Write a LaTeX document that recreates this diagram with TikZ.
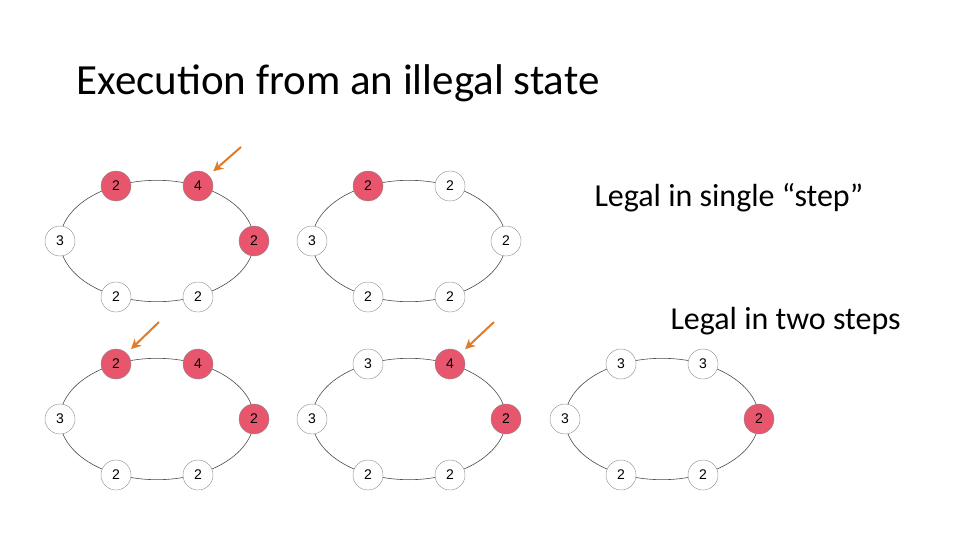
\documentclass[tikz,border=0pt]{standalone}
\usepackage{fontspec}
\usetikzlibrary{arrows.meta}
\setmainfont{Carlito}
\newfontfamily\nodefont{Liberation Sans}
\definecolor{nred}{HTML}{E8566E}
\definecolor{arr}{HTML}{E07B2A}
\begin{document}
\begin{tikzpicture}[x=1pt,y=-1pt,
  nd/.style={circle,draw=black!45,fill=white,minimum size=30pt,inner sep=0pt,font=\nodefont\fontsize{14}{14}\selectfont},
  rd/.style={nd,fill=nred},
  ring/.style={draw=black!70,line width=0.6pt},
  oarrow/.style={draw=arr,line width=2pt,shorten >=6pt,-{Stealth[length=10pt,width=10pt]}}]
\useasboundingbox (0,0) rectangle (960,540);
\node[anchor=base west,font=\fontsize{43}{43}\selectfont] (title) at (73,95) {Execution from an illegal state};
\node[anchor=base west,font=\fontsize{32}{32}\selectfont] (l1) at (591,206) {Legal in single “step”};
\node[anchor=base west,font=\fontsize{32}{32}\selectfont] (l2) at (667,329) {Legal in two steps};
\newcommand\myring[8]{%
  \begin{scope}[shift={#1}]
  \draw[ring] (0,0) ellipse (97 and 60.7);
  \node[#2] (#8a) at (-41,-55) {#3};
  \node[#4] (#8b) at (41,-55) {#5};
  \node[nd] (#8c) at (-97,0) {3};
  \node[#6] (#8d) at (97,0) {#7};
  \node[nd] (#8e) at (-41,56) {2};
  \node[nd] (#8f) at (41,56) {2};
  \end{scope}}
\myring{(157,241)}{rd}{2}{rd}{4}{rd}{2}{A}
\myring{(409,241)}{rd}{2}{nd}{2}{nd}{2}{B}
\myring{(157,419)}{rd}{2}{rd}{4}{rd}{2}{C}
\myring{(409,419)}{nd}{3}{rd}{4}{rd}{2}{D}
\myring{(662,419)}{nd}{3}{nd}{3}{rd}{2}{E}
\coordinate (s1) at (241,147);
\coordinate (s2) at (159,322);
\coordinate (s3) at (494,322);
\draw[oarrow] (s1) -- (Ab.north east);
\draw[oarrow] (s2) -- (Ca.north east);
\draw[oarrow] (s3) -- (Db.north east);
\end{tikzpicture}
\end{document}
